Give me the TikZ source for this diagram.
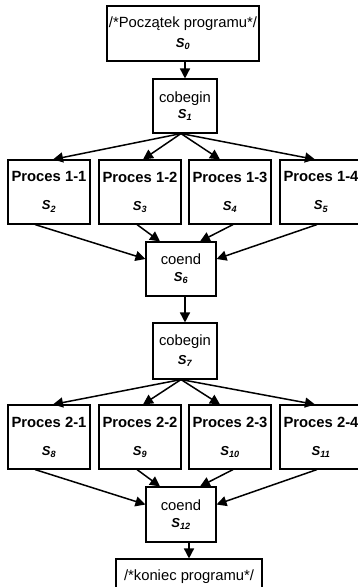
\documentclass[tikz,border=0pt]{standalone}
\usepackage{fontspec}
\setmainfont{Liberation Sans}
\usetikzlibrary{arrows.meta}

\newcommand{\stan}[1]{{\fontsize{13}{15}\selectfont\bfseries\itshape S\textsubscript{#1}}}

\begin{document}
\begin{tikzpicture}
	[x=1pt, y=-1pt,
	 blok/.style={draw, line width=1.1pt, inner sep=0pt, align=center, font=\fontsize{14.8}{15}\selectfont},
	 proces/.style={blok, minimum width=82pt, minimum height=64pt, font=\fontsize{14.8}{15}\selectfont\bfseries},
	 strz/.style={-{Triangle[length=10pt,width=10pt]}, line width=1.5pt}];

	\useasboundingbox (0,0) rectangle (358,587);

	%Start
	\node[blok, minimum width=152pt, minimum height=55pt] (start) at (183,33.5) {/*Początek programu*/\\[5pt]\stan{0}};
	\node[blok, minimum width=64pt, minimum height=54pt] (s1) at (185,106) {cobegin\\[1pt]\stan{1}};

	%Procesy 1
	\node[proces] (p1) at (49,192) {Proces 1-1\\[13pt]\stan{2}};
	\node[proces] (p2) at (140,192) {Proces 1-2\\[13pt]\stan{3}};
	\node[proces] (p3) at (230,192) {Proces 1-3\\[13pt]\stan{4}};
	\node[proces] (p4) at (321,192) {Proces 1-4\\[13pt]\stan{5}};

	\node[blok, minimum width=70pt, minimum height=54pt] (s6) at (181,269) {coend\\[2pt]\stan{6}};
	\node[blok, minimum width=64pt, minimum height=56pt] (s7) at (185,351) {cobegin\\[4pt]\stan{7}};

	%Procesy 2
	\node[proces] (q1) at (49,437) {Proces 2-1\\[13pt]\stan{8}};
	\node[proces] (q2) at (140,437) {Proces 2-2\\[13pt]\stan{9}};
	\node[proces] (q3) at (230,437) {Proces 2-3\\[13pt]\stan{10}};
	\node[proces] (q4) at (321,437) {Proces 2-4\\[13pt]\stan{11}};

	\node[blok, minimum width=70pt, minimum height=55pt] (s12) at (181,514.5) {coend\\[2pt]\stan{12}};
	\node[blok, minimum width=146pt, minimum height=36pt] (stop) at (189,577) {/*koniec programu*/};

	%Strzalki
	\draw[strz] (start.south -| s1.north) -- (s1.north);
	\draw[strz] ([xshift=-4pt]s1.south) -- ([xshift=4pt]p1.north);
	\draw[strz] ([xshift=-4pt]s1.south) -- ([xshift=3pt]p2.north);
	\draw[strz] ([xshift=-4pt]s1.south) -- ([xshift=-10pt]p3.north);
	\draw[strz] ([xshift=-4pt]s1.south) -- ([xshift=-6pt]p4.north);

	\draw[strz] ([xshift=-14pt]p1.south) -- ([yshift=10pt]s6.west);
	\draw[strz] ([xshift=-3pt]p2.south) -- ([xshift=-21pt]s6.north);
	\draw[strz] ([xshift=3pt]p3.south) -- ([xshift=19pt]s6.north);
	\draw[strz] ([xshift=-4pt]p4.south) -- ([yshift=10pt]s6.east);
	\draw[strz] (s6.south -| s7.north) -- (s7.north);

	\draw[strz] ([xshift=-4pt]s7.south) -- ([xshift=4pt]q1.north);
	\draw[strz] ([xshift=-4pt]s7.south) -- ([xshift=3pt]q2.north);
	\draw[strz] ([xshift=-4pt]s7.south) -- ([xshift=-10pt]q3.north);
	\draw[strz] ([xshift=-4pt]s7.south) -- ([xshift=-6pt]q4.north);

	\draw[strz] ([xshift=-14pt]q1.south) -- ([yshift=10pt]s12.west);
	\draw[strz] ([xshift=-3pt]q2.south) -- ([xshift=-21pt]s12.north);
	\draw[strz] ([xshift=3pt]q3.south) -- ([xshift=19pt]s12.north);
	\draw[strz] ([xshift=-4pt]q4.south) -- ([yshift=10pt]s12.east);
	\draw[strz] (s12.south -| stop.north) -- (stop.north);
\end{tikzpicture}
\end{document}
